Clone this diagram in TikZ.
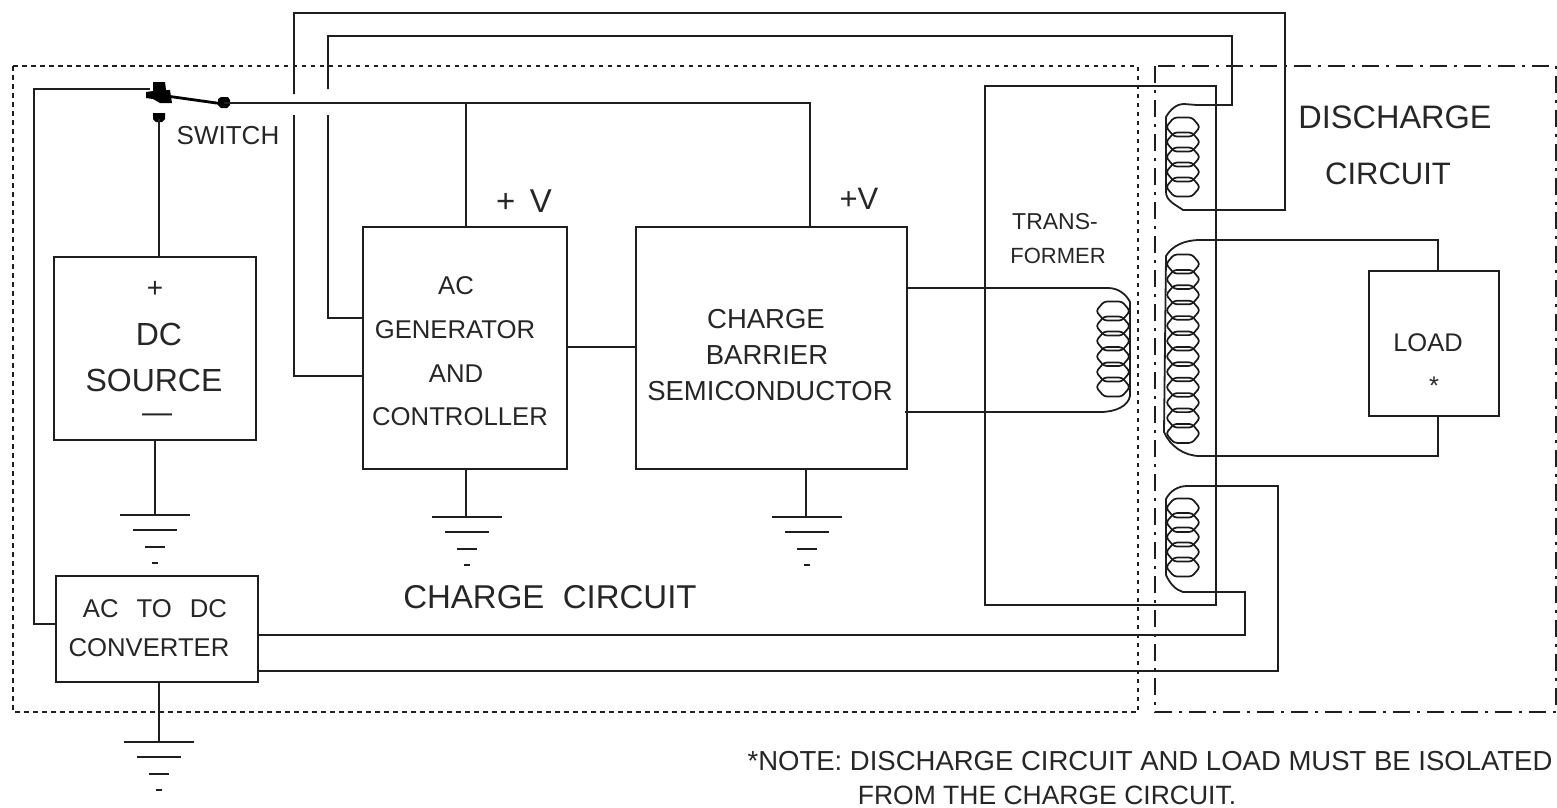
\documentclass[tikz,border=0pt]{standalone}
\usepackage{fontspec}
\setmainfont{Liberation Sans}
\tikzset{
  x=1pt,y=-1pt,
  wire/.style={draw=black!88,line width=1.8pt},
  box/.style={draw=black!88,line width=1.8pt,fill=none,inner sep=0pt},
  lab/.style={inner sep=0pt,text=black!85,align=center,font=\fontsize{#1}{#1}\selectfont},
  turn/.style={draw=black!90,line width=1.7pt,line join=round},
  blob/.style={fill=black,draw=none},
}
\newcommand{\gnd}[2]{%
  \draw[wire] (#1-35,#2) -- (#1+35,#2);
  \draw[wire] (#1-22,#2+15) -- (#1+22,#2+15);
  \draw[wire] (#1-10,#2+32) -- (#1+10,#2+32);
  \draw[wire] (#1-3,#2+48) -- (#1+3,#2+48);
}
\newcommand{\coilloop}[2]{\draw[turn,rounded corners=3pt] (#1-17,#2) -- (#1-9,#2-9.5) -- (#1+9,#2-9.5) -- (#1+17,#2) -- (#1+9,#2+9.5) -- (#1-9,#2+9.5) -- cycle;}
\begin{document}
\begin{tikzpicture}
\useasboundingbox (0,0) rectangle (1557,807);
% enclosures
\draw[black!88,line width=1.8pt,dash pattern=on 4.5pt off 4.5pt] (13,66) rectangle (1138,712);
\draw[black!88,line width=1.8pt,dash pattern=on 17pt off 7pt on 3pt off 7pt] (1155,66) rectangle (1556,712);
% boxes
\node[box,minimum width=202pt,minimum height=183pt] (dc) at (155,348.5) {};
\node[box,minimum width=204pt,minimum height=242pt] (ac) at (465,348) {};
\node[box,minimum width=271pt,minimum height=242pt] (cb) at (771.5,348) {};
\node[box,minimum width=202pt,minimum height=106pt] (conv) at (157,629) {};
\node[box,minimum width=130pt,minimum height=145pt] (load) at (1434,343.5) {};
\node[box,minimum width=231pt,minimum height=519pt] (core) at (1100.5,345.5) {};
% switch
\coordinate (swl) at (150,89);
\coordinate (swb) at (224,103);
\coordinate (swc) at (159,119);
\fill[blob] (153,82) -- (165,82) -- (166,90) -- (170,90) -- (172,103) -- (160,103) -- (153,99) -- (146,98) -- (146,92) -- (153,91) -- cycle;
\fill[blob] (218,99) -- (221,97) -- (228,97) -- (230,100) -- (230,105) -- (227,108) -- (221,108) -- (218,105) -- cycle;
\fill[blob] (153,113) -- (165,113) -- (165,119) -- (162,122) -- (156,122) -- (153,119) -- cycle;
\draw[black,line width=2.8pt] (170,96.5) -- (220,103.5);
% wires
\draw[wire] (swb) -- (810,103) -- (810,227);
\draw[wire] (466,103) -- (466,227);
\draw[wire] (conv.west |- 0,624) -- (34,624) -- (34,89) -- (swl);
\draw[wire] (swc) -- (159,257);
\draw[wire] (567,347) -- (636,347);
\draw[wire] (362,376) -- (294,376) -- (294,115);
\draw[wire] (294,94) -- (294,13) -- (1285,13) -- (1285,210) -- (1183,210) -- (1180,208) .. controls (1174,204) and (1166,200) .. (1166,192) -- (1166,117) .. controls (1170,110) and (1176,104) .. (1184,104) -- (1197,105) -- (1232,105) -- (1232,36) -- (328,36) -- (328,89);
\draw[wire] (328,115) -- (328,318) -- (362,318);
\draw[wire] (907,288) -- (1108,288) .. controls (1118,288) and (1126,294) .. (1130,302) -- (1130,396) .. controls (1128,406) and (1116,412) .. (1100,412) -- (905,412);
\draw[wire] (1438,271) -- (1438,240) -- (1200,240) .. controls (1184,240) and (1172,246) .. (1166,256) -- (1164,432) .. controls (1170,446) and (1184,456) .. (1200,456) -- (1438,456) -- (1438,416);
\draw[wire] (258,671) -- (1278,671) -- (1278,486) -- (1187,486) .. controls (1178,486) and (1170,491) .. (1166,499) -- (1166,575) .. controls (1170,584) and (1176,590) .. (1183,592) -- (1245,592) -- (1245,635) -- (258,635);
% coils
\foreach \yy in {127,142,157,172,187} {\coilloop{1183}{\yy}}
\foreach \yy in {264,279.4,294.8,310.2,325.6,341,356.4,371.8,387.2,402.6,418,433.4} {\coilloop{1183}{\yy}}
\foreach \yy in {508,522.5,537,552,567} {\coilloop{1183}{\yy}}
\foreach \yy in {311,326,341,356.5,372,387} {\coilloop{1113}{\yy}}
% grounds
\draw[wire] (155,440) -- (155,515); \gnd{155}{515}
\draw[wire] (466,469) -- (466,517); \gnd{467}{517}
\draw[wire] (806,469) -- (806,517); \gnd{807}{517}
\draw[wire] (159,682) -- (159,742); \gnd{159}{742}
% labels
\node[lab=26] (t1) at (228,136) {SWITCH};
\node[lab=28] (t2) at (155,289) {+};
\node[lab=32] (t3) at (159,334) {DC};
\node[lab=32] (t4) at (154,380) {SOURCE};
\node[lab=30] (t5) at (157,418) {—};
\node[lab=33] (t6) at (524,201) {+\, V};
\node[lab=31] (t7) at (859,199) {+V};
\node[lab=25.7] (t8) at (456,286) {AC};
\node[lab=25.7] (t9) at (455,330) {GENERATOR};
\node[lab=25.7] (t10) at (456,374) {AND};
\node[lab=25.7] (t11) at (460,417) {CONTROLLER};
\node[lab=27.5] (t12) at (766,319) {CHARGE};
\node[lab=27.5] (t13) at (767,355) {BARRIER};
\node[lab=27.5] (t14) at (770,391) {SEMICONDUCTOR};
\node[lab=23] (t15) at (1055,222) {TRANS-};
\node[lab=22] (t16) at (1058,256) {FORMER};
\node[lab=32.5] (t17) at (1395,117) {DISCHARGE};
\node[lab=31] (t18) at (1388,174) {CIRCUIT};
\node[lab=25.5] (t19) at (1428,343) {LOAD};
\node[lab=25.5] (t20) at (1434,386) {*};
\node[lab=25.7] (t21) at (155,609) {AC\hspace{18pt}TO\hspace{18pt}DC};
\node[lab=25.7] (t22) at (149,648) {CONVERTER};
\node[lab=33] (t23) at (550,597) {CHARGE\ \ CIRCUIT};
\node[lab=27.5] (t24) at (1150,761) {*NOTE: DISCHARGE CIRCUIT AND LOAD MUST BE ISOLATED};
\node[lab=26.5,anchor=base] (t25) at (1047,804) {FROM THE CHARGE CIRCUIT.};
\end{tikzpicture}
\end{document}
